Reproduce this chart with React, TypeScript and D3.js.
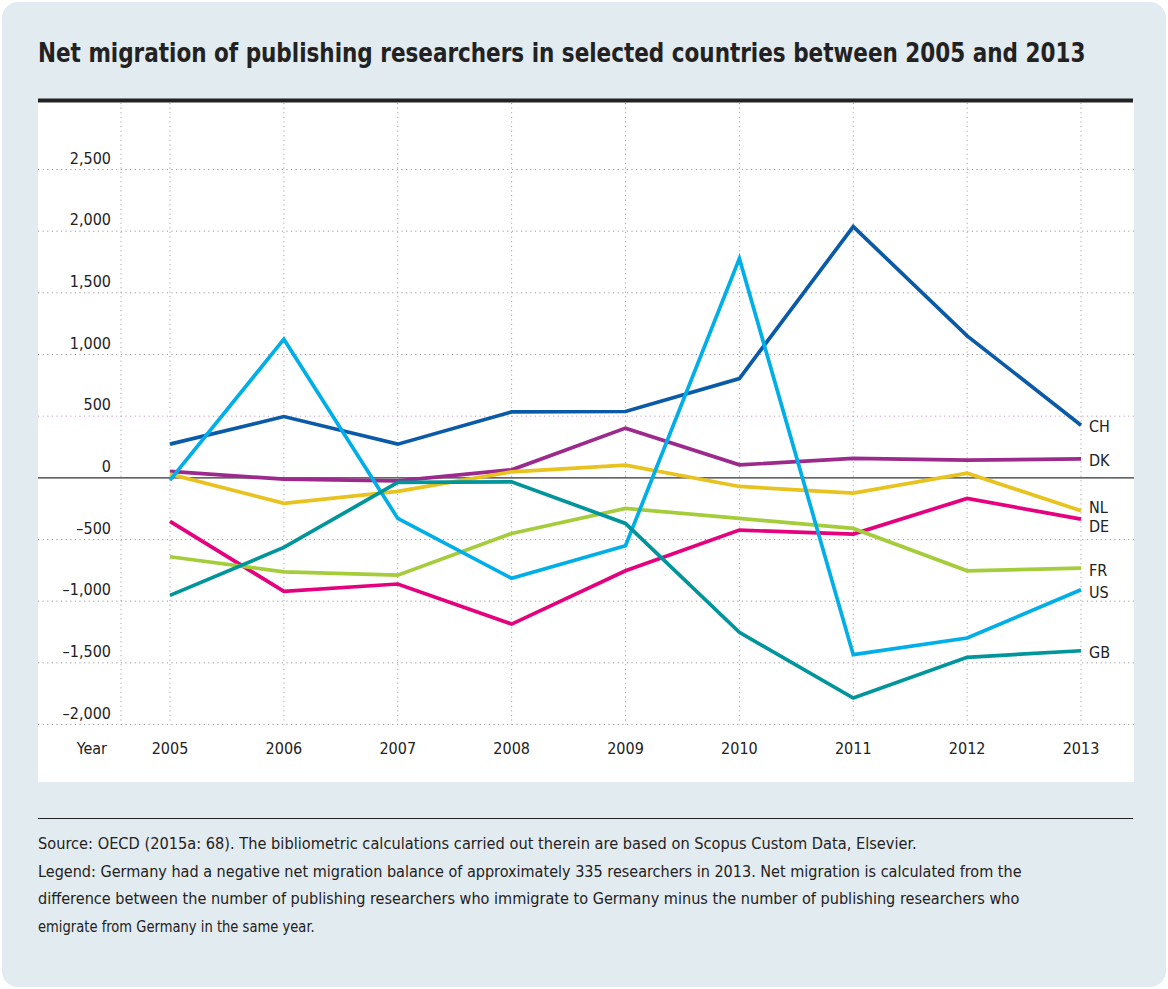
import React, { useLayoutEffect, useRef, useState } from "react";
import * as d3 from "d3";

const years = [2005, 2006, 2007, 2008, 2009, 2010, 2011, 2012, 2013];
const yTicks = [2500, 2000, 1500, 1000, 500, 0, -500, -1000, -1500, -2000];

const CH = [273, 497, 273, 535, 538, 805, 2037, 1151, 427];
const DK = [52, -11, -24, 65, 403, 105, 157, 143, 154];
const NL = [30, -207, -110, 49, 103, -70, -124, 38, -267];
const DE = [-353, -921, -861, -1186, -754, -424, -456, -167, -335];
const FR = [-640, -762, -789, -451, -248, -329, -410, -754, -732];
const US = [-19, 1124, -329, -815, -551, 1778, -1434, -1299, -908];
const GB = [-953, -564, -37, -32, -370, -1253, -1785, -1455, -1402];

const seriesNames = ["CH", "DK", "NL", "DE", "FR", "US", "GB"];
const seriesValues = [CH, DK, NL, DE, FR, US, GB];
const seriesColors = ["#0a5aa8", "#9c2a8c", "#e8c21e", "#e5007d", "#a5cc3b", "#00aee8", "#00959a"];
const labelShift = [1, 1, -4, 7, 2, 2, 1];

const title = "Net migration of publishing researchers in selected countries between 2005 and 2013";
const footerLines = [
  "Source: OECD (2015a: 68). The bibliometric calculations carried out therein are based on Scopus Custom Data, Elsevier.",
  "Legend: Germany had a negative net migration balance of approximately 335 researchers in 2013. Net migration is calculated from the",
  "difference between the number of publishing researchers who immigrate to Germany minus the number of publishing researchers who",
  "emigrate from Germany in the same year.",
];
const footerWidths = [879, 985, 982, 277];

const FONT = "'DejaVu Sans Condensed', 'Liberation Sans Narrow', 'Roboto', sans-serif";

function fmt(v: number): string {
  const s = d3.format(",")(Math.abs(v));
  return v < 0 ? "\u2013" + s : s;
}

function FitText(props: { x: number; y: number; width: number; size: number; weight?: string; children: string }) {
  const ref = useRef<SVGTextElement>(null);
  const [sx, setSx] = useState(1);
  useLayoutEffect(() => {
    if (ref.current) {
      const w = ref.current.getBBox().width;
      if (w > 0) setSx(props.width / w);
    }
  }, [props.width, props.children]);
  return (
    <g transform={`translate(${props.x},${props.y}) scale(${sx},1)`}>
      <text ref={ref} x={0} y={0} fontSize={props.size} fontWeight={props.weight || "normal"} fill="#222">
        {props.children}
      </text>
    </g>
  );
}

export default function App() {
  const W = 1168;
  const H = 989;
  const x = d3.scalePoint<number>().domain(years).range([170, 1081]);
  const y = d3.scaleLinear().domain([-2000, 2500]).range([724.5, 169.5]);
  const line = d3
    .line<number>()
    .x((_, i) => x(years[i]) as number)
    .y((d) => y(d));

  return (
    <svg
      width={W}
      height={H}
      style={{ position: "absolute", left: 0, top: 0, fontFamily: FONT }}
    >
      <rect x={2} y={2} width={1164} height={985} rx={16} fill="#e2ebf0" />
      <FitText x={38} y={62} width={1048} size={27} weight="bold">{title}</FitText>
      <rect x={38} y={101} width={1096} height={681} fill="#ffffff" />
      <line x1={38} x2={1133} y1={100.5} y2={100.5} stroke="#222" strokeWidth={4} />

      {yTicks.filter((t) => t !== 0).map((t) => (
        <line
          key={"h" + t}
          x1={38}
          x2={1134}
          y1={y(t)}
          y2={y(t)}
          stroke={t === 500 ? "#c99ac4" : "#9a9a9a"}
          strokeWidth={1}
          strokeDasharray="1.2,3.4"
        />
      ))}
      {[121, ...years.map((yr) => x(yr) as number)].map((xx, i) => (
        <line
          key={"v" + i}
          x1={xx}
          x2={xx}
          y1={103}
          y2={y(-2000)}
          stroke="#a8a8a8"
          strokeWidth={1}
          strokeDasharray="1.2,3.4"
        />
      ))}
      <line x1={38} x2={1134} y1={y(0)} y2={y(0)} stroke="#333" strokeWidth={1.3} />

      {yTicks.map((t) => (
        <text key={"yt" + t} x={111} y={y(t) - 6} textAnchor="end" fontSize={16} fill="#222">
          {fmt(t)}
        </text>
      ))}
      <text x={107} y={754} textAnchor="end" fontSize={16} fill="#222">Year</text>
      {years.map((yr) => (
        <text key={"xt" + yr} x={x(yr) as number} y={754} textAnchor="middle" fontSize={16} fill="#222">
          {yr}
        </text>
      ))}

      {seriesValues.map((vals, i) => (
        <path
          key={"s" + i}
          d={line(vals) as string}
          fill="none"
          stroke={seriesColors[i]}
          strokeWidth={3.7}
          strokeLinejoin="miter"
        />
      ))}
      {seriesValues.map((vals, i) => (
        <text
          key={"l" + i}
          x={1089}
          y={y(vals[vals.length - 1]) + labelShift[i] + 6}
          fontSize={16}
          fill="#222"
        >
          {seriesNames[i]}
        </text>
      ))}

      <line x1={38} x2={1133} y1={818.5} y2={818.5} stroke="#222" strokeWidth={1.2} />
      {footerLines.map((ln, i) => (
        <FitText key={"f" + i} x={38} y={849 + i * 27.6} width={footerWidths[i]} size={16}>
          {ln}
        </FitText>
      ))}
    </svg>
  );
}
